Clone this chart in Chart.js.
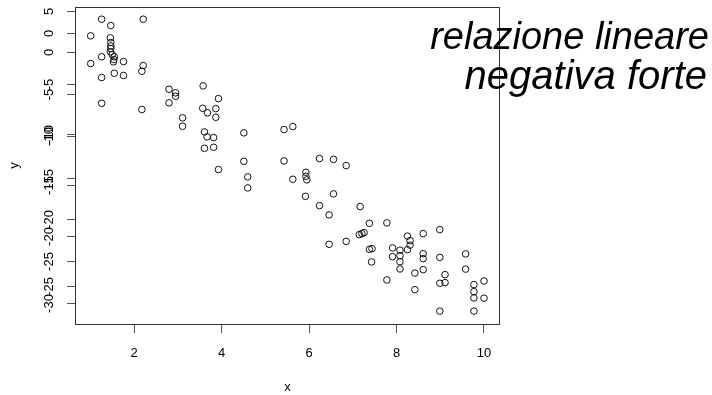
<!DOCTYPE html>
<html>
<head>
<meta charset="utf-8">
<script src="https://cdn.jsdelivr.net/npm/chart.js@4/dist/chart.umd.min.js"></script>
<style>
html,body{margin:0;padding:0;background:#fff;}
#wrap{width:712px;height:395px;}
</style>
</head>
<body>
<div id="wrap"><canvas id="c" width="712" height="395"></canvas></div>
<script>
// ---- data ----
const xValues = [1.26,1.47,2.21,1.01,1.46,1.47,1.47,1.47,1.46,1.50,1.55,1.54,1.53,1.26,1.01,1.76,2.21,2.18,1.26,1.55,1.76,1.26,2.18,2.80,2.95,2.95,2.80,3.11,3.11,
  3.58,3.93,3.57,3.68,3.87,3.87,3.61,3.67,3.82,3.61,3.82,3.93,4.51,4.51,4.60,4.60,5.43,5.63,5.43,5.63,
  5.93,5.93,5.95,6.24,6.56,6.85,5.92,6.56,6.24,6.46,7.17,7.38,7.78,7.15,7.21,7.26,6.46,6.85,7.38,7.44,7.43,7.91,7.91,8.08,8.08,8.08,8.08,7.78,
  8.25,8.31,8.31,8.25,8.61,8.99,8.61,8.61,8.61,8.42,8.42,8.99,9.11,8.99,9.11,8.99,9.58,9.58,9.77,9.77,9.77,10.00,10.00,9.77];
const yValues = [3.96,3.20,3.96,1.97,1.73,1.17,0.75,0.45,0.06,-0.27,-0.54,-0.87,-1.14,-0.54,-1.35,-1.11,-1.59,-2.27,-3.02,-2.51,-2.78,-6.10,-6.85,-4.42,-4.85,-5.26,-6.05,-7.85,-8.85,
  -4.02,-5.54,-6.70,-7.25,-6.74,-7.78,-9.53,-10.12,-10.21,-11.49,-11.37,-14.04,-9.64,-13.05,-14.91,-16.23,-9.25,-8.89,-13.00,-15.20,
  -14.36,-14.84,-15.27,-12.72,-12.81,-13.56,-17.24,-16.95,-18.35,-19.46,-18.47,-20.47,-20.42,-21.82,-21.70,-21.58,-22.98,-22.63,-23.58,-23.50,-25.09,-23.42,-24.46,-23.68,-24.34,-25.06,-25.93,-27.25,
  -22.00,-22.54,-23.08,-23.62,-21.70,-21.22,-24.10,-24.70,-26.01,-26.43,-28.41,-24.54,-26.61,-27.65,-27.57,-30.98,-24.13,-25.95,-27.81,-28.65,-29.40,-27.37,-29.43,-30.98];
const xTicks = [2,4,6,8,10];
const yTicks = [5,0,-5,-10,-15,-20,-25,-30];
const yTicksOverlay = [0,-5,-10,-15,-20,-25];
const titleLines = ['relazione lineare','negativa forte'];
const xLabel = 'x';
const yLabel = 'y';

const FONT = "'Liberation Sans', Arial, sans-serif";

const rAxesPlugin = {
  id: 'rAxes',
  afterDraw(chart) {
    const ctx = chart.ctx;
    const a = chart.chartArea;
    ctx.save();
    ctx.strokeStyle = '#333';
    ctx.lineWidth = 1;
    ctx.strokeRect(Math.round(a.left) + 0.5, Math.round(a.top) + 0.5,
      Math.round(a.right - a.left) - 1, Math.round(a.bottom - a.top));
    const drawY = (scale, ticks) => {
      ctx.strokeStyle = '#555';
      ctx.fillStyle = '#000';
      ctx.font = '13px ' + FONT;
      ticks.forEach(v => {
        const py = Math.round(scale.getPixelForValue(v)) + 0.5;
        ctx.beginPath();
        ctx.moveTo(a.left + 0.5, py);
        ctx.lineTo(a.left - 8, py);
        ctx.stroke();
        ctx.save();
        ctx.translate(49, py);
        ctx.rotate(-Math.PI / 2);
        ctx.textAlign = 'center';
        ctx.textBaseline = 'middle';
        ctx.fillText(String(v), 0, 0);
        ctx.restore();
      });
    };
    drawY(chart.scales.y, yTicks);
    drawY(chart.scales.y2, yTicksOverlay);
    ctx.fillStyle = '#000';
    ctx.textAlign = 'right';
    ctx.textBaseline = 'alphabetic';
    ctx.font = 'italic 38px ' + FONT;
    ctx.fillText(titleLines[0], 709, 49);
    ctx.font = 'italic 40px ' + FONT;
    ctx.fillText(titleLines[1], 707, 89);
    ctx.restore();
  }
};

new Chart(document.getElementById('c'), {
  type: 'scatter',
  data: {
    datasets: [{
      data: xValues.map((x, i) => ({x: x, y: yValues[i]})),
      pointRadius: 3.3,
      pointHoverRadius: 3.3,
      borderWidth: 1,
      borderColor: '#111',
      backgroundColor: 'rgba(0,0,0,0)',
      yAxisID: 'y'
    }]
  },
  options: {
    responsive: false,
    animation: false,
    events: [],
    layout: {padding: {left: 0, top: 7, right: 212, bottom: 0}},
    plugins: {legend: {display: false}, tooltip: {enabled: false}},
    scales: {
      x: {
        type: 'linear', position: 'bottom',
        min: 0.651, max: 10.366,
        afterBuildTicks: s => { s.ticks = xTicks.map(v => ({value: v})); },
        afterFit: s => { s.height = 71; },
        border: {display: false},
        grid: {drawOnChartArea: false, drawTicks: true, tickLength: 9, color: '#555'},
        ticks: {color: '#000', font: {size: 13, family: FONT}, padding: 13, maxRotation: 0},
        title: {display: true, text: xLabel, color: '#000', font: {size: 13, family: FONT}, padding: {top: 0, bottom: 0}}
      },
      y: {
        type: 'linear', position: 'left',
        min: -32.52, max: 5.42,
        afterFit: s => { s.width = 75; },
        border: {display: false},
        grid: {display: false},
        ticks: {display: false},
        title: {display: true, text: yLabel, color: '#000', font: {size: 13, family: FONT}, padding: {top: 7, bottom: 0}}
      },
      y2: {
        type: 'linear', position: 'left', display: false,
        min: -28.72, max: 2.59
      }
    }
  },
  plugins: [rAxesPlugin]
});
</script>
</body>
</html>
